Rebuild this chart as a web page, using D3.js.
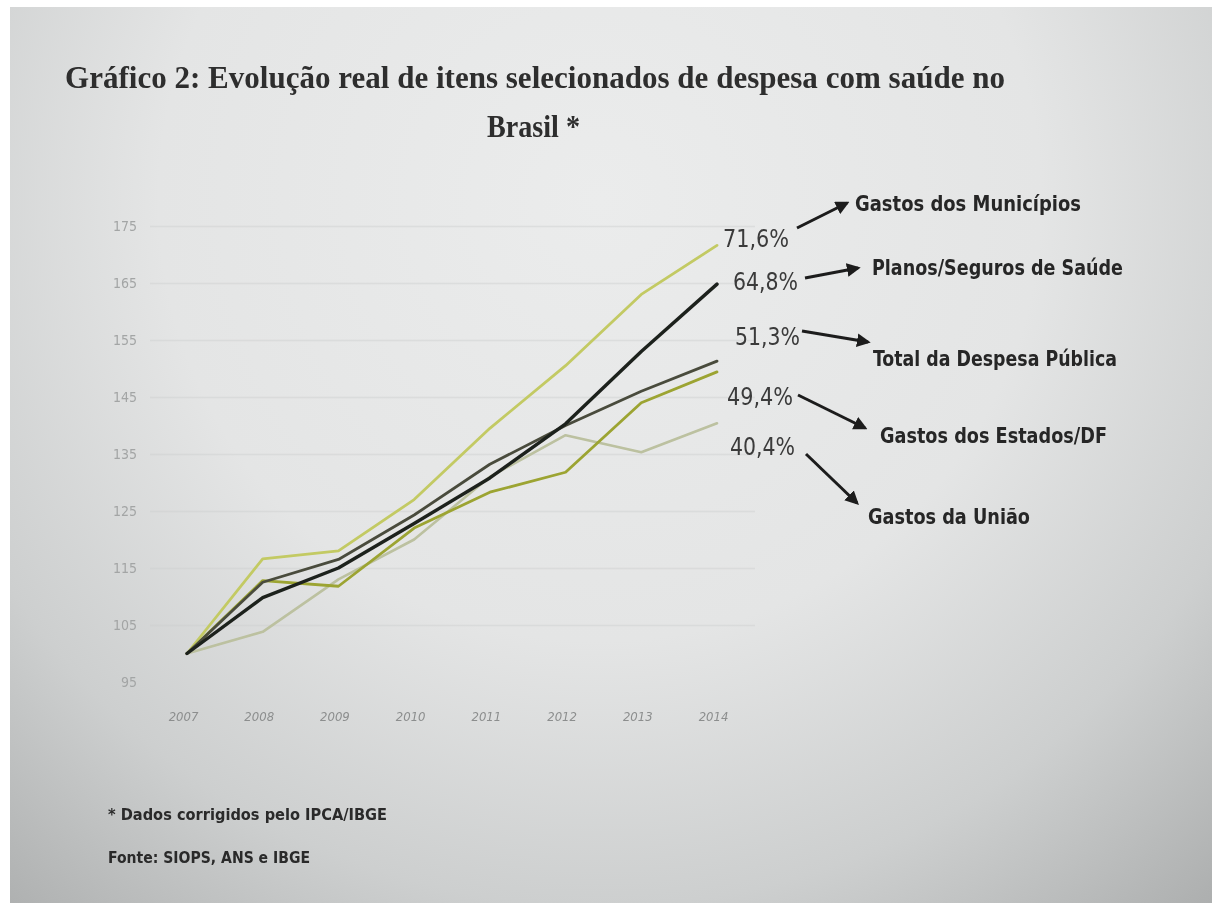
<!DOCTYPE html>
<html>
<head>
<meta charset="utf-8">
<script src="https://cdn.jsdelivr.net/npm/d3@7"></script>
<style>
html,body{margin:0;padding:0;background:#ffffff;}
svg{display:block;}
</style>
</head>
<body>
<svg id="chart" width="1212" height="903"></svg>
<script>
// ---- data ----
const years = ["2007","2008","2009","2010","2011","2012","2013","2014"];
const yTicks = [95,105,115,125,135,145,155,165,175];
const seriesNames = ["Gastos dos Municípios","Planos/Seguros de Saúde","Total da Despesa Pública","Gastos dos Estados/DF","Gastos da União"];
const pctLabels = ["71,6%","64,8%","51,3%","49,4%","40,4%"];
const municipios = [100, 116.6, 118.0, 127.0, 139.5, 150.5, 163.0, 171.6];
const planos     = [100, 109.8, 115.0, 122.8, 130.8, 140.3, 153.0, 164.8];
const totalPub   = [100, 112.5, 116.5, 124.3, 133.2, 140.0, 146.0, 151.3];
const estados    = [100, 112.8, 111.8, 122.0, 128.3, 131.8, 144.0, 149.4];
const uniao      = [100, 103.8, 113.0, 120.0, 131.0, 138.3, 135.3, 140.4];
const titleLine1 = "Gráfico 2: Evolução real de itens selecionados de despesa com saúde no";
const titleLine2 = "Brasil *";
const footnote = "* Dados corrigidos pelo IPCA/IBGE";
const source = "Fonte: SIOPS, ANS e IBGE";

const svg = d3.select("#chart");

// paper photo background
const defs = svg.append("defs");
const rg = defs.append("radialGradient").attr("id","paper")
  .attr("gradientUnits","userSpaceOnUse").attr("cx",600).attr("cy",200).attr("r",980);
rg.append("stop").attr("offset","0%").attr("stop-color","#ebecec");
rg.append("stop").attr("offset","45%").attr("stop-color","#e4e5e5");
rg.append("stop").attr("offset","72%").attr("stop-color","#cdcfcf");
rg.append("stop").attr("offset","100%").attr("stop-color","#a6a8a8");
svg.append("rect").attr("x",10).attr("y",7).attr("width",1202).attr("height",896).attr("fill","url(#paper)");

const mk = defs.append("marker").attr("id","arr").attr("viewBox","0 0 10 10")
  .attr("refX",8).attr("refY",5).attr("markerWidth",4.6).attr("markerHeight",4.6)
  .attr("orient","auto").attr("markerUnits","strokeWidth");
mk.append("path").attr("d","M0,0 L10,5 L0,10 Z").attr("fill","#1c1c1c");

const blur = defs.append("filter").attr("id","soft");
blur.append("feGaussianBlur").attr("stdDeviation",0.6);

// title
svg.append("text").attr("x",65).attr("y",88)
  .attr("textLength",940).attr("lengthAdjust","spacingAndGlyphs")
  .style("font-family","'Liberation Serif', 'DejaVu Serif', serif").style("font-weight","bold")
  .style("font-size","31px").attr("fill","#2e2e2e").attr("filter","url(#soft)").text(titleLine1);
svg.append("text").attr("x",487).attr("y",137)
  .attr("textLength",93).attr("lengthAdjust","spacingAndGlyphs")
  .style("font-family","'Liberation Serif', 'DejaVu Serif', serif").style("font-weight","bold")
  .style("font-size","31px").attr("fill","#2e2e2e").attr("filter","url(#soft)").text(titleLine2);

// scales
const x = d3.scalePoint().domain(years).range([187, 717]);
const y = d3.scaleLinear().domain([95, 175]).range([682, 226]);

// gridlines
const grid = svg.append("g").attr("transform","translate(150,0)")
  .call(d3.axisLeft(y).tickValues(yTicks.filter(v=>v>95)).tickSize(-605).tickFormat(""));
grid.select(".domain").remove();
grid.selectAll("line").attr("stroke","#cdcfcf").attr("stroke-width",1.5).attr("opacity",0.45);

// y tick labels
const ya = svg.append("g").attr("transform","translate(137,0)")
  .call(d3.axisLeft(y).tickValues(yTicks).tickSize(0).tickPadding(0));
ya.select(".domain").remove();
ya.selectAll("text").style("font-family","'DejaVu Sans Condensed','DejaVu Sans',sans-serif")
  .style("font-size","14px").attr("fill","#a3a5a5").attr("filter","url(#soft)");

// x tick labels
const xa = svg.append("g").attr("transform","translate(-4,712)")
  .call(d3.axisBottom(x).tickSize(0).tickPadding(0));
xa.select(".domain").remove();
xa.selectAll("text").style("font-family","'DejaVu Sans Condensed','DejaVu Sans',sans-serif")
  .style("font-size","13px").style("font-style","italic").attr("fill","#8c8e8e").attr("filter","url(#soft)");

// lines
const series = [
  {vals: uniao,      color:"#bcc1a0", w:2.6},
  {vals: estados,    color:"#9ca432", w:2.8},
  {vals: municipios, color:"#c3ca64", w:2.8},
  {vals: totalPub,   color:"#4a4c3c", w:2.8},
  {vals: planos,     color:"#1f201e", w:3.4}
];
const line = d3.line().x((d,i)=>x(years[i])).y(d=>y(d));
svg.append("g").attr("filter","url(#soft)").selectAll("path").data(series).join("path")
  .attr("d", d=>line(d.vals)).attr("fill","none")
  .attr("stroke", d=>d.color).attr("stroke-width", d=>d.w)
  .attr("stroke-linejoin","round").attr("stroke-linecap","round");

// annotations
const pctPos = [[723,247,66],[733,290,65],[735,345,65],[727,405,66],[730,455,65]];
const namePos = [[855,211,226],[872,275,251],[873,366,244],[880,443,227],[868,524,162]];
const arrows = [[797,228,847,203],[805,278,858,268],[802,331,868,342],[798,395,865,428],[806,454,857,503]];

const ann = svg.append("g").attr("filter","url(#soft)");
ann.selectAll("text.pct").data(pctLabels).join("text").attr("class","pct")
  .attr("x",(d,i)=>pctPos[i][0]).attr("y",(d,i)=>pctPos[i][1])
  .attr("textLength",(d,i)=>pctPos[i][2]).attr("lengthAdjust","spacingAndGlyphs")
  .style("font-family","'DejaVu Sans Condensed','DejaVu Sans',sans-serif").style("font-size","24px")
  .attr("fill","#3a3a3a").text(d=>d);
ann.selectAll("text.nm").data(seriesNames).join("text").attr("class","nm")
  .attr("x",(d,i)=>namePos[i][0]).attr("y",(d,i)=>namePos[i][1])
  .attr("textLength",(d,i)=>namePos[i][2]).attr("lengthAdjust","spacingAndGlyphs")
  .style("font-family","'DejaVu Sans Condensed','DejaVu Sans',sans-serif").style("font-weight","bold")
  .style("font-size","21px").attr("fill","#262626").text(d=>d);
ann.selectAll("line.arr").data(arrows).join("line").attr("class","arr")
  .attr("x1",d=>d[0]).attr("y1",d=>d[1]).attr("x2",d=>d[2]).attr("y2",d=>d[3])
  .attr("stroke","#1c1c1c").attr("stroke-width",3).attr("marker-end","url(#arr)");

// footer
svg.append("text").attr("x",108).attr("y",820).attr("textLength",279).attr("lengthAdjust","spacingAndGlyphs")
  .style("font-family","'DejaVu Sans Condensed','DejaVu Sans',sans-serif").style("font-weight","bold")
  .style("font-size","15px").attr("fill","#2a2a2a").attr("filter","url(#soft)").text(footnote);
svg.append("text").attr("x",108).attr("y",863).attr("textLength",202).attr("lengthAdjust","spacingAndGlyphs")
  .style("font-family","'DejaVu Sans Condensed','DejaVu Sans',sans-serif").style("font-weight","bold")
  .style("font-size","15px").attr("fill","#2a2a2a").attr("filter","url(#soft)").text(source);
</script>
</body>
</html>
